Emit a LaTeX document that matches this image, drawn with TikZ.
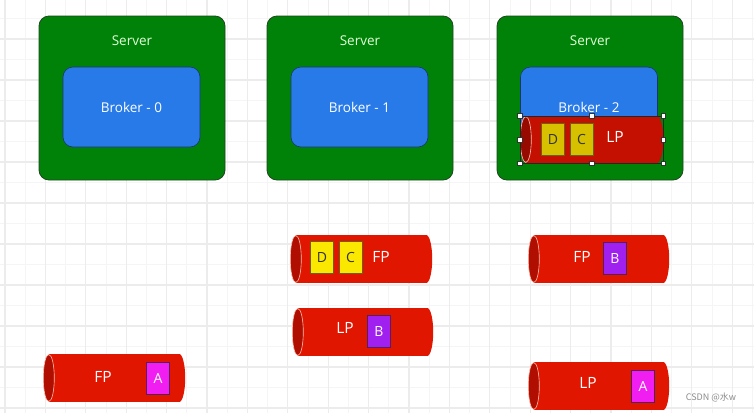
\documentclass[tikz,border=0pt]{standalone}
\usepackage{fontspec}
\setmainfont{Open Sans}
\newfontfamily\cjkfont{Noto Sans CJK SC}
\usetikzlibrary{calc}
\definecolor{servergreen}{RGB}{0,130,8}
\definecolor{serverline}{RGB}{30,70,30}
\definecolor{brokerblue}{RGB}{40,122,232}
\definecolor{brokerline}{RGB}{25,55,110}
\definecolor{servertxt}{RGB}{225,255,215}
\definecolor{tubered}{RGB}{224,22,0}
\definecolor{tubecap}{RGB}{175,14,0}
\definecolor{capline}{RGB}{255,190,175}
\definecolor{seltube}{RGB}{196,16,0}
\definecolor{selcap}{RGB}{150,10,0}
\definecolor{yelbox}{RGB}{250,232,0}
\definecolor{selyel}{RGB}{214,192,0}
\definecolor{yelline}{RGB}{110,95,20}
\definecolor{purbox}{RGB}{160,32,240}
\definecolor{magbox}{RGB}{240,30,240}
\definecolor{boxline}{RGB}{90,30,90}
\definecolor{majgrid}{RGB}{236,236,236}
\definecolor{mingrid}{RGB}{245,245,245}
\tikzset{
  serverbox/.style={draw=serverline, line width=0.8pt, fill=servergreen, rounded corners=10pt,
    minimum width=186pt, minimum height=164pt, inner sep=0pt},
  brokerbox/.style={draw=brokerline, line width=0.6pt, fill=brokerblue, rounded corners=10pt,
    minimum width=137pt, minimum height=80pt, inner sep=0pt, text=white,
    font=\fontsize{13.5}{16}\selectfont},
  servertext/.style={text=servertxt, font=\fontsize{13.5}{16}\selectfont, inner sep=0pt},
  tubebox/.style={minimum width=#1, minimum height=48pt, inner sep=0pt},
  tubebox/.default=142pt,
  tubetext/.style={text=white, font=\fontsize{15.5}{18}\selectfont, inner sep=0pt},
  letterbox/.style={draw=#1, line width=0.7pt, minimum width=23pt, minimum height=32pt,
    inner sep=0pt, font=\fontsize{14}{16}\selectfont},
  ybox/.style={letterbox=yelline, fill=yelbox, text=black!80},
  sybox/.style={letterbox=yelline, fill=selyel, text=black!80},
  pbox/.style={letterbox=boxline, fill=purbox, text=white},
  mbox/.style={letterbox=boxline, fill=magbox, text=white},
  handle/.style={draw=black!80, fill=white, line width=0.5pt, minimum size=4.5pt, inner sep=0pt},
}
% #1 name, #2 x-left, #3 y-top, #4 width, #5 height, #6 body colour, #7 cap colour
\newcommand{\tube}[7]{%
  \node[tubebox=#4pt, minimum height=#5pt] (#1) at (#2+#4/2, #3+#5/2) {};
  \fill[#6] ($(#1.north west)+(6,0)$) rectangle ($(#1.south east)+(-6,0)$);
  \fill[#6] ($(#1.east)+(-6,0)$) ellipse [x radius=6, y radius=#5/2];
  \filldraw[fill=#7, draw=capline, line width=0.6pt] ($(#1.west)+(6,0)$) ellipse [x radius=5.5, y radius=#5/2-0.5];
}
\begin{document}
\begin{tikzpicture}[x=1pt, y=-1pt]
\useasboundingbox (0,0) rectangle (754,413);
\fill[white] (0,0) rectangle (754,413);
% grid
\foreach \k in {0,...,37} {
  \draw[mingrid, line width=0.8pt] (5+20.2*\k,0) -- (5+20.2*\k,413);
}
\foreach \k in {0,...,21} {
  \draw[mingrid, line width=0.8pt] (0,-2+20.5*\k) -- (754,-2+20.5*\k);
}
\foreach \k in {0,...,18} {
  \draw[majgrid, line width=1.1pt] (5+40.4*\k,0) -- (5+40.4*\k,413);
}
\foreach \k in {0,...,10} {
  \draw[majgrid, line width=1.1pt] (0,-2+41*\k) -- (754,-2+41*\k);
}

% servers and brokers
\node[serverbox] (s0) at (132,98) {};
\node[serverbox] (s1) at (360,98) {};
\node[serverbox] (s2) at (590,98) {};
\node[servertext] (s0t) at (132,41) {Server};
\node[servertext] (s1t) at (360,41) {Server};
\node[servertext] (s2t) at (590,41) {Server};
\node[brokerbox] (b0) at (131.5,107) {Broker - 0};
\node[brokerbox] (b1) at (359.5,107) {Broker - 1};
\node[brokerbox] (b2) at (589,107) {Broker - 2};

% selected LP tube inside server 2
\tube{lp2}{520}{116}{143}{47}{seltube}{selcap}
\node[sybox] (d2) at (553,139) {D};
\node[sybox] (c2) at (581.5,139) {C};
\node[tubetext] (lp2t) at (615,137) {LP};
\draw[black!85, line width=0.6pt] (lp2.north west) rectangle (lp2.south east);
\foreach \a in {north west,north,north east,west,east,south west,south,south east} {
  \node[handle] at (lp2.\a) {};
}

% middle tubes
\tube{fp1}{290}{235}{142}{48}{tubered}{tubecap}
\node[ybox] (d1) at (322,257) {D};
\node[ybox] (c1) at (350.5,257) {C};
\node[tubetext] (fp1t) at (381,257) {FP};

\tube{lp1}{292}{308}{141}{48}{tubered}{tubecap}
\node[tubetext] (lp1t) at (345,328) {LP};
\node[pbox] (b1b) at (379,331) {B};

% right tubes
\tube{fp2}{528}{235}{141}{48}{tubered}{tubecap}
\node[tubetext] (fp2t) at (582,257) {FP};
\node[pbox] (b2b) at (615,258) {B};

\tube{lp3}{528}{362}{141}{48}{tubered}{tubecap}
\node[tubetext] (lp3t) at (588,383) {LP};
\node[mbox] (a2) at (643,386) {A};

% left tube
\tube{fp0}{43}{354}{142}{48}{tubered}{tubecap}
\node[tubetext] (fp0t) at (103,377) {FP};
\node[mbox] (a0) at (158,378) {A};

% watermark
\node[text=black!45, font=\cjkfont\fontsize{9}{11}\selectfont, inner sep=0pt] (wm) at (711,397) {CSDN @水w};
\end{tikzpicture}
\end{document}
